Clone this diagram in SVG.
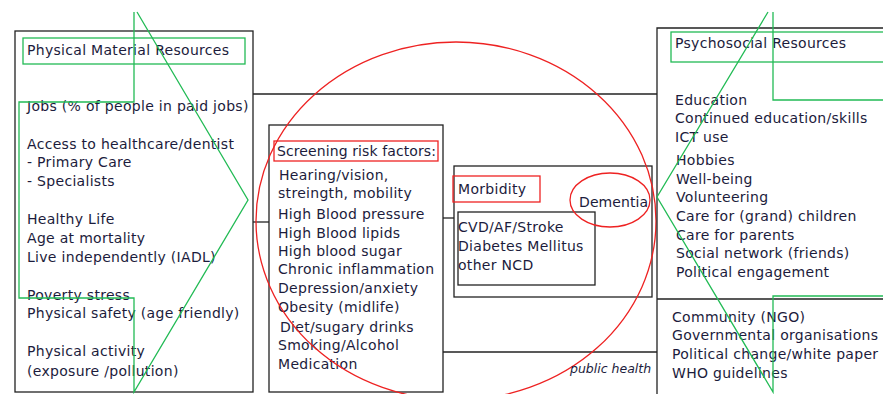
<svg xmlns="http://www.w3.org/2000/svg" width="883" height="394" viewBox="0 0 883 394">
<style>
text{font-family:"DejaVu Sans","Liberation Sans",sans-serif;font-size:14px;letter-spacing:0.3px;fill:#1c1c3c}
.k{fill:none;stroke:#222;stroke-width:1.3}
.g{fill:none;stroke:#22bb55;stroke-width:1.3}
.r{fill:none;stroke:#ee2222;stroke-width:1.3}
.it{font-style:italic;font-size:12.5px;letter-spacing:0}
.t{letter-spacing:0.1px}
</style>
<rect width="883" height="394" fill="#fff"/>
<g id="connectors">
<line class="k" x1="253" y1="94" x2="657" y2="94"/>
<line class="k" x1="253" y1="222" x2="269" y2="222"/>
<line class="k" x1="443" y1="218" x2="454" y2="218"/>
<line class="k" x1="443" y1="352" x2="657" y2="352"/>
</g>
<g id="physical">
<rect class="k" x="15" y="31" width="238" height="361"/>
<rect class="g" x="23" y="38" width="222" height="26"/>
<text x="27" y="55">Physical Material Resources</text>
<text x="27" y="111">Jobs  (% of people in paid jobs)</text>
<text x="27" y="149">Access to healthcare/dentist</text>
<text x="27" y="167">- Primary Care</text>
<text x="27" y="186">- Specialists</text>
<text x="27" y="224">Healthy Life</text>
<text x="27" y="243">Age at mortality</text>
<text x="27" y="262">Live independently (IADL)</text>
<text x="27" y="300">Poverty stress</text>
<text x="27" y="318">Physical safety (age friendly)</text>
<text x="27" y="356">Physical activity</text>
<text x="27" y="376">(exposure /pollution)</text>
<path class="g" d="M134,12 V102 H19 V298 H134 V392 L248,200 L137,12"/>
</g>
<g id="screening">
<rect class="k" x="269" y="125" width="174" height="267"/>
<rect class="r" x="274" y="141" width="164" height="20"/>
<text class="t" x="277" y="156">Screening risk factors:</text>
<text x="279" y="180">Hearing/vision,</text>
<text x="278" y="198">streingth, mobility</text>
<text x="278" y="219">High Blood pressure</text>
<text x="278" y="238">High Blood lipids</text>
<text x="278" y="256">High blood sugar</text>
<text x="278" y="274">Chronic inflammation</text>
<text x="278" y="293">Depression/anxiety</text>
<text x="278" y="312">Obesity (midlife)</text>
<text x="280" y="332">Diet/sugary drinks</text>
<text x="278" y="350">Smoking/Alcohol</text>
<text x="278" y="369">Medication</text>
</g>
<g id="morbidity">
<rect class="k" x="454" y="166" width="198" height="131"/>
<rect class="r" x="453" y="176" width="87" height="26"/>
<text x="458" y="194">Morbidity</text>
<rect class="k" x="458" y="212" width="137" height="73"/>
<text x="458" y="232">CVD/AF/Stroke</text>
<text x="458" y="251">Diabetes Mellitus</text>
<text x="458" y="270">other NCD</text>
</g>
<g id="dementia">
<ellipse class="r" cx="610" cy="200" rx="40" ry="27"/>
<text class="t" x="579" y="207">Dementia</text>
</g>
<g id="health-circle">
<ellipse class="r" cx="456" cy="221" rx="200" ry="179"/>
</g>
<g id="psychosocial">
<path class="k" d="M883,28 H657 V394 M657,299 H883"/>
<rect class="g" x="671" y="32" width="220" height="30"/>
<text x="675" y="48">Psychosocial Resources</text>
<text x="675" y="105">Education</text>
<text x="675" y="123">Continued education/skills</text>
<text x="675" y="142">ICT use</text>
<text x="676" y="165">Hobbies</text>
<text x="676" y="184">Well-being</text>
<text x="676" y="202">Volunteering</text>
<text x="676" y="221">Care for (grand) children</text>
<text x="676" y="240">Care for parents</text>
<text x="676" y="258">Social network (friends)</text>
<text x="676" y="277">Political engagement</text>
<text x="672" y="322">Community (NGO)</text>
<text x="672" y="340">Governmental organisations</text>
<text x="672" y="359">Political change/white paper</text>
<text x="672" y="378">WHO guidelines</text>
<path class="g" d="M773,12 V100 H885 M885,296 H773 V392 L657,197 L768,12"/>
</g>
<g id="public-health">
<text class="it" x="570" y="373">public health</text>
</g>
</svg>
